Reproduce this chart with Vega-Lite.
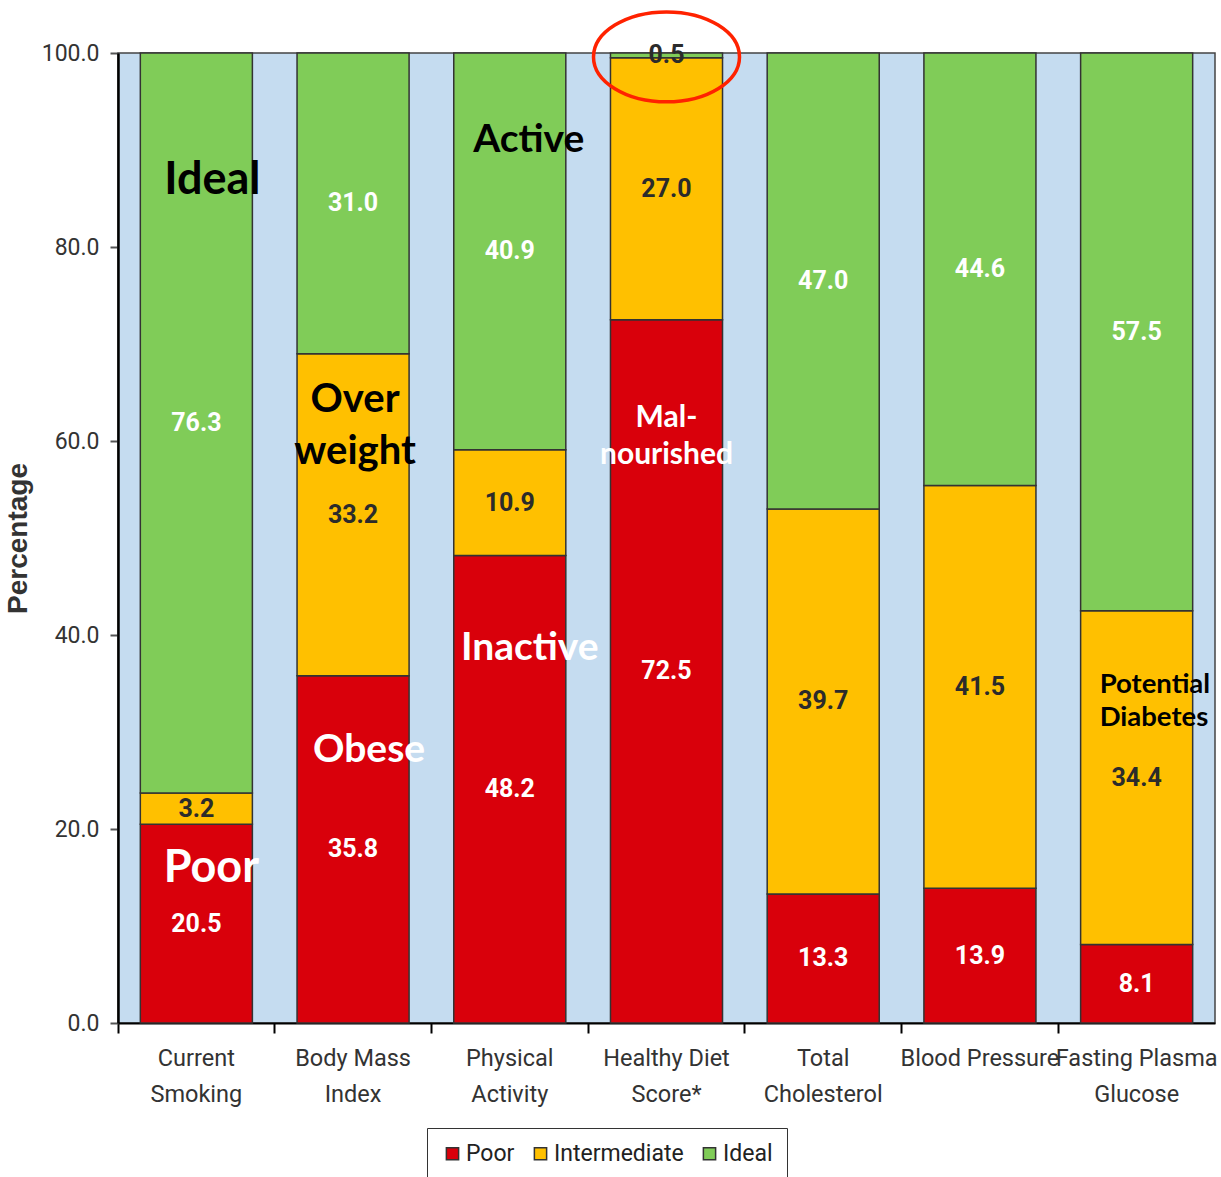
{
  "$schema": "https://vega.github.io/schema/vega-lite/v6.json",
  "width": 1097,
  "height": 970,
  "autosize": {"type": "none"},
  "padding": {"left": 118, "top": 53, "right": 6, "bottom": 154},
  "background": "white",
  "config": {
    "view": {"fill": "#c5dcf0", "stroke": "#444", "strokeWidth": 1.5},
    "font": "Roboto"
  },
  "datasets": {
    "bars": [
      {"category": "Current|Smoking", "status": "Poor", "value": 20.5, "rank": 1},
      {"category": "Current|Smoking", "status": "Intermediate", "value": 3.2, "rank": 2},
      {"category": "Current|Smoking", "status": "Ideal", "value": 76.3, "rank": 3},
      {"category": "Body Mass|Index", "status": "Poor", "value": 35.8, "rank": 1},
      {"category": "Body Mass|Index", "status": "Intermediate", "value": 33.2, "rank": 2},
      {"category": "Body Mass|Index", "status": "Ideal", "value": 31.0, "rank": 3},
      {"category": "Physical|Activity", "status": "Poor", "value": 48.2, "rank": 1},
      {"category": "Physical|Activity", "status": "Intermediate", "value": 10.9, "rank": 2},
      {"category": "Physical|Activity", "status": "Ideal", "value": 40.9, "rank": 3},
      {"category": "Healthy Diet|Score*", "status": "Poor", "value": 72.5, "rank": 1},
      {"category": "Healthy Diet|Score*", "status": "Intermediate", "value": 27.0, "rank": 2},
      {"category": "Healthy Diet|Score*", "status": "Ideal", "value": 0.5, "rank": 3},
      {"category": "Total|Cholesterol", "status": "Poor", "value": 13.3, "rank": 1},
      {"category": "Total|Cholesterol", "status": "Intermediate", "value": 39.7, "rank": 2},
      {"category": "Total|Cholesterol", "status": "Ideal", "value": 47.0, "rank": 3},
      {"category": "Blood Pressure", "status": "Poor", "value": 13.9, "rank": 1},
      {"category": "Blood Pressure", "status": "Intermediate", "value": 41.5, "rank": 2},
      {"category": "Blood Pressure", "status": "Ideal", "value": 44.6, "rank": 3},
      {"category": "Fasting Plasma|Glucose", "status": "Poor", "value": 8.1, "rank": 1},
      {"category": "Fasting Plasma|Glucose", "status": "Intermediate", "value": 34.4, "rank": 2},
      {"category": "Fasting Plasma|Glucose", "status": "Ideal", "value": 57.5, "rank": 3}
    ],
    "notes": [
      {"category": "Current|Smoking", "level": 86.9, "note": "Ideal"},
      {"category": "Current|Smoking", "level": 16.0, "note": "Poor"},
      {"category": "Body Mass|Index", "level": 64.2, "note": "Over|weight"},
      {"category": "Body Mass|Index", "level": 28.1, "note": "Obese"},
      {"category": "Physical|Activity", "level": 91.0, "note": "Active"},
      {"category": "Physical|Activity", "level": 38.7, "note": "Inactive"},
      {"category": "Healthy Diet|Score*", "level": 62.4, "note": "Mal-|nourished"},
      {"category": "Fasting Plasma|Glucose", "level": 34.8, "note": "Potential|Diabetes"},
      {"category": "Healthy Diet|Score*", "level": 99.6, "note": "circle"}
    ]
  },
  "encoding": {
    "x": {
      "field": "category",
      "type": "nominal",
      "sort": null,
      "scale": {
        "domain": ["Current|Smoking", "Body Mass|Index", "Physical|Activity", "Healthy Diet|Score*", "Total|Cholesterol", "Blood Pressure", "Fasting Plasma|Glucose"],
        "paddingInner": 0,
        "paddingOuter": 0
      },
      "axis": {
        "title": null,
        "labelAngle": 0,
        "labelExpr": "split(datum.label, '|')",
        "labelFont": "Roboto",
        "labelFontSize": 23.5,
        "labelColor": "#333333",
        "labelLineHeight": 36,
        "labelPadding": 13,
        "labelBaseline": "top",
        "labelOverlap": false,
        "bandPosition": 0,
        "domainColor": "#000000",
        "domainWidth": 2,
        "tickColor": "#000000",
        "tickWidth": 2,
        "tickSize": 10
      }
    }
  },
  "layer": [
    {
      "data": {"name": "bars"},
      "mark": {"type": "bar", "width": {"band": 0.715}, "stroke": "#333333", "strokeWidth": 1.5},
      "encoding": {
        "y": {
          "field": "value",
          "type": "quantitative",
          "stack": "zero",
          "scale": {"domain": [0, 100], "nice": false},
          "axis": {
            "title": "Percentage",
            "titleFont": "Liberation Sans",
            "titleFontSize": 28,
            "titleFontWeight": "bold",
            "titleColor": "#333333",
            "titlePadding": 9,
            "values": [0, 20, 40, 60, 80, 100],
            "format": ".1f",
            "labelFont": "Roboto",
            "labelFontSize": 23,
            "labelColor": "#333333",
            "labelPadding": 11,
            "grid": false,
            "domainColor": "#000000",
            "domainWidth": 2.5,
            "tickColor": "#555555",
            "tickWidth": 2,
            "tickSize": 8
          }
        },
        "order": {"field": "rank", "type": "quantitative"},
        "color": {
          "field": "status",
          "type": "nominal",
          "scale": {"domain": ["Poor", "Intermediate", "Ideal"], "range": ["#d9000b", "#ffc000", "#80cc58"]},
          "legend": {
            "title": null,
            "orient": "none",
            "legendX": 309,
            "legendY": 1075,
            "direction": "horizontal",
            "symbolType": "square",
            "symbolSize": 150,
            "symbolStrokeColor": "#333333",
            "symbolStrokeWidth": 1.5,
            "labelFont": "Roboto",
            "labelFontSize": 23,
            "labelColor": "#222222",
            "labelOffset": 2,
            "columnPadding": 14,
            "strokeColor": "#333333",
            "fillColor": "white",
            "padding": 14
          }
        }
      }
    },
    {
      "data": {"name": "bars"},
      "transform": [
        {"stack": "value", "groupby": ["category"], "sort": [{"field": "rank"}], "as": ["y0", "y1"]},
        {"calculate": "(datum.y0 + datum.y1) / 2", "as": "mid"}
      ],
      "mark": {"type": "text", "font": "Roboto", "fontWeight": "bold", "fontSize": 25, "baseline": "middle", "align": "center"},
      "encoding": {
        "y": {"field": "mid", "type": "quantitative"},
        "text": {"field": "value", "type": "quantitative", "format": ".1f"},
        "color": {
          "condition": {"test": "datum.status === 'Intermediate' || datum.value < 1", "value": "#2b2b2b"},
          "value": "#ffffff"
        }
      }
    },
    {
      "data": {"name": "notes"},
      "transform": [{"filter": "datum.note === 'Ideal'"}],
      "mark": {"type": "text", "font": "Lato", "fontWeight": "bold", "fontSize": 45, "color": "#000000", "dx": 16, "baseline": "middle"},
      "encoding": {"y": {"field": "level", "type": "quantitative"}, "text": {"field": "note"}}
    },
    {
      "data": {"name": "notes"},
      "transform": [{"filter": "datum.note === 'Poor'"}],
      "mark": {"type": "text", "font": "Lato", "fontWeight": "bold", "fontSize": 45, "color": "#ffffff", "dx": 15, "baseline": "middle"},
      "encoding": {"y": {"field": "level", "type": "quantitative"}, "text": {"field": "note"}}
    },
    {
      "data": {"name": "notes"},
      "transform": [{"filter": "datum.note === 'Over|weight'"}],
      "mark": {"type": "text", "font": "Lato", "fontWeight": "bold", "fontSize": 40, "color": "#000000", "dx": 2, "baseline": "middle", "lineBreak": "|", "lineHeight": 52},
      "encoding": {"y": {"field": "level", "type": "quantitative"}, "text": {"field": "note"}}
    },
    {
      "data": {"name": "notes"},
      "transform": [{"filter": "datum.note === 'Obese'"}],
      "mark": {"type": "text", "font": "Lato", "fontWeight": "bold", "fontSize": 39, "color": "#ffffff", "dx": 16, "baseline": "middle"},
      "encoding": {"y": {"field": "level", "type": "quantitative"}, "text": {"field": "note"}}
    },
    {
      "data": {"name": "notes"},
      "transform": [{"filter": "datum.note === 'Active'"}],
      "mark": {"type": "text", "font": "Lato", "fontWeight": "bold", "fontSize": 39, "color": "#000000", "dx": 19, "baseline": "middle"},
      "encoding": {"y": {"field": "level", "type": "quantitative"}, "text": {"field": "note"}}
    },
    {
      "data": {"name": "notes"},
      "transform": [{"filter": "datum.note === 'Inactive'"}],
      "mark": {"type": "text", "font": "Lato", "fontWeight": "bold", "fontSize": 39, "color": "#ffffff", "dx": 20, "baseline": "middle"},
      "encoding": {"y": {"field": "level", "type": "quantitative"}, "text": {"field": "note"}}
    },
    {
      "data": {"name": "notes"},
      "transform": [{"filter": "datum.note === 'Mal-|nourished'"}],
      "mark": {"type": "text", "font": "Lato", "fontWeight": "bold", "fontSize": 30, "color": "#ffffff", "dx": 0, "baseline": "middle", "lineBreak": "|", "lineHeight": 37},
      "encoding": {"y": {"field": "level", "type": "quantitative"}, "text": {"field": "note"}}
    },
    {
      "data": {"name": "notes"},
      "transform": [{"filter": "datum.note === 'Potential|Diabetes'"}],
      "mark": {"type": "text", "font": "Lato", "fontWeight": "bold", "fontSize": 27.5, "color": "#000000", "dx": -37, "align": "left", "baseline": "middle", "lineBreak": "|", "lineHeight": 33},
      "encoding": {"y": {"field": "level", "type": "quantitative"}, "text": {"field": "note"}}
    },
    {
      "data": {"name": "notes"},
      "transform": [{"filter": "datum.note === 'circle'"}],
      "mark": {
        "type": "point",
        "shape": "M -1 0 A 1 0.616 0 1 0 1 0 A 1 0.616 0 1 0 -1 0 Z",
        "size": 21316,
        "filled": false,
        "stroke": "#ff2200",
        "strokeWidth": 3.5,
        "opacity": 1,
        "strokeOpacity": 1
      },
      "encoding": {"y": {"field": "level", "type": "quantitative"}}
    }
  ]
}
